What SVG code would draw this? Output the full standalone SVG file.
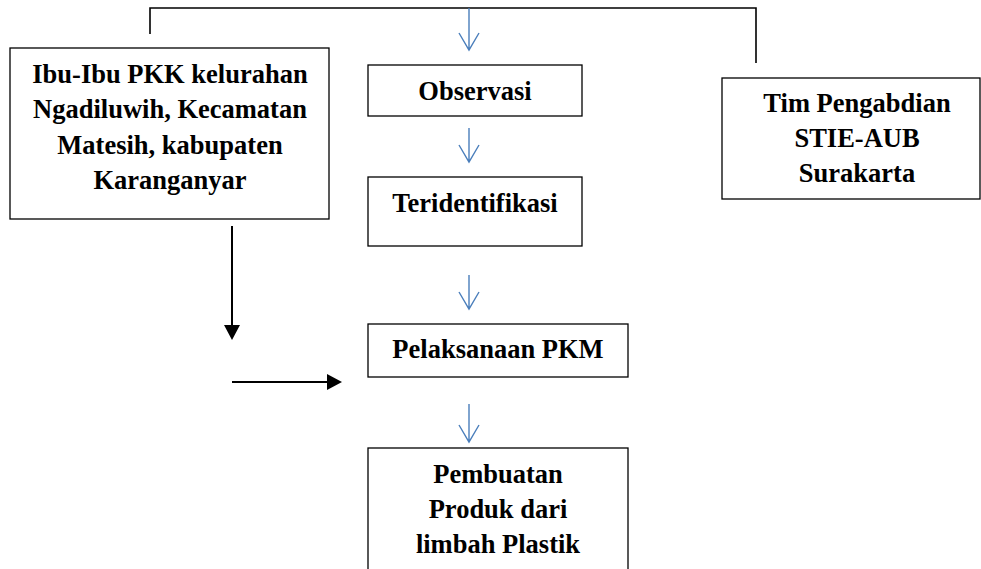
<svg xmlns="http://www.w3.org/2000/svg" width="981" height="569" viewBox="0 0 981 569">
<style>
.box{fill:#fff;stroke:#000;stroke-width:1.3}
.t{font-family:"Liberation Serif","Times New Roman",serif;font-weight:bold;font-size:26.5px;fill:#000;text-anchor:middle}
.ln{fill:none;stroke:#000;stroke-width:1.6}
.blue{fill:none;stroke:#4a7ebb;stroke-width:1.4}
.blk{fill:none;stroke:#000;stroke-width:2}
</style>
<defs>
<marker id="tri" markerWidth="10" markerHeight="10" refX="9" refY="5" orient="auto" markerUnits="userSpaceOnUse" viewBox="0 0 10 10">
<path d="M0,0 L10,5 L0,10 Z" fill="#000"/>
</marker>
</defs>
<g id="connectors">
<path class="ln" d="M150,34 V8 H756 V63"/>
<path class="blue" d="M469,8 V50 M459,33 L469,50 L479,33"/>
<path class="blue" d="M469,128 V162 M459,145 L469,162 L479,145"/>
<path class="blue" d="M469,275 V309 M459,292 L469,309 L479,292"/>
<path class="blue" d="M469,404 V442 M459,425 L469,442 L479,425"/>
<path class="blk" d="M232,226 V326"/>
<path d="M224,325 L240,325 L232,340 Z" fill="#000"/>
<path class="blk" d="M232,382 H328"/>
<path d="M327,374 L342,382 L327,390 Z" fill="#000"/>
</g>
<g id="node-ibu">
<rect class="box" x="10" y="48" width="319" height="171"/>
<text class="t" x="170" y="83">Ibu-Ibu PKK kelurahan</text>
<text class="t" x="170" y="118">Ngadiluwih, Kecamatan</text>
<text class="t" x="170" y="154">Matesih, kabupaten</text>
<text class="t" x="170" y="189">Karanganyar</text>
</g>
<g id="node-observasi">
<rect class="box" x="368" y="65" width="214" height="51"/>
<text class="t" x="475" y="100">Observasi</text>
</g>
<g id="node-teridentifikasi">
<rect class="box" x="368" y="177" width="214" height="69"/>
<text class="t" x="475" y="212">Teridentifikasi</text>
</g>
<g id="node-pelaksanaan">
<rect class="box" x="368" y="324" width="260" height="53"/>
<text class="t" x="498" y="358">Pelaksanaan PKM</text>
</g>
<g id="node-pembuatan">
<rect class="box" x="368" y="448" width="260" height="130"/>
<text class="t" x="498" y="483">Pembuatan</text>
<text class="t" x="498" y="518">Produk dari</text>
<text class="t" x="498" y="553">limbah Plastik</text>
</g>
<g id="node-tim">
<rect class="box" x="722" y="78" width="258" height="121"/>
<text class="t" x="857" y="112">Tim Pengabdian</text>
<text class="t" x="857" y="147">STIE-AUB</text>
<text class="t" x="857" y="182">Surakarta</text>
</g>
</svg>
